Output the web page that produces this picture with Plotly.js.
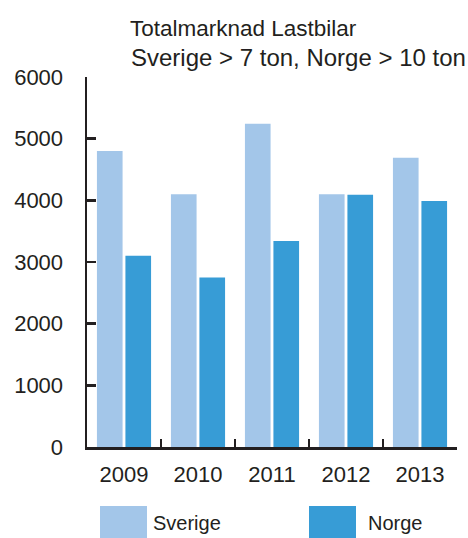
<!DOCTYPE html>
<html>
<head>
<meta charset="utf-8">
<script src="https://cdn.plot.ly/plotly-3.0.1.min.js"></script>
<style>html,body{margin:0;padding:0;background:#fff;}#chart{width:468px;height:538px;}</style>
</head>
<body>
<div id="chart"></div>
<script>
const years = ['2009', '2010', '2011', '2012', '2013'];
const sverige = [4800, 4100, 5240, 4100, 4690];
const norge = [3100, 2750, 3340, 4090, 3990];
const yTicks = [0, 1000, 2000, 3000, 4000, 5000, 6000];
const titleLine1 = 'Totalmarknad Lastbilar';
const titleLine2 = 'Sverige &gt; 7 ton, Norge &gt; 10 ton';
const seriesNames = ['Sverige', 'Norge'];

const colSv = '#a3c6e9';
const colNo = '#379cd6';
const ink = '#231f20';
const font = '"Liberation Sans", Arial, sans-serif';

const traces = [
  {type: 'bar', name: seriesNames[0], x: years, y: sverige, marker: {color: colSv}, showlegend: false, hoverinfo: 'x+y+name'},
  {type: 'bar', name: seriesNames[1], x: years, y: norge, marker: {color: colNo}, showlegend: false, hoverinfo: 'x+y+name'}
];

const layout = {
  width: 468, height: 538,
  margin: {l: 87, r: 11, t: 77, b: 91},
  paper_bgcolor: '#fff', plot_bgcolor: '#fff',
  font: {family: font, size: 22, color: ink},
  barmode: 'group', bargap: 0.23, bargroupgap: 0.1,
  title: {text: titleLine1, x: 130/468, xanchor: 'left', xref: 'container', y: 1 - 28/538, yanchor: 'middle', font: {family: font, size: 22.5, color: ink}},
  xaxis: {
    type: 'category', showline: true, linecolor: ink, linewidth: 2.5,
    ticks: 'inside', tickson: 'boundaries', ticklen: 8, tickwidth: 2.5, tickcolor: ink,
    showgrid: false, zeroline: false, fixedrange: true,
    ticklabelstandoff: 6,
    tickfont: {family: font, size: 22, color: ink}
  },
  yaxis: {
    range: [0, 6000], tickvals: yTicks, ticktext: yTicks.map(String),
    showline: true, linecolor: ink, linewidth: 2.5,
    ticks: 'inside', ticklen: 9, tickwidth: 2.5, tickcolor: ink,
    showgrid: false, zeroline: false, fixedrange: true,
    ticklabelstandoff: 17,
    tickfont: {family: font, size: 22, color: ink}
  },
  annotations: [
    {text: titleLine2, xref: 'paper', yref: 'paper', x: (129-87)/370, y: (447-57)/370, xanchor: 'left', yanchor: 'middle', showarrow: false, font: {family: font, size: 24, color: ink}},
    {text: seriesNames[0], xref: 'paper', yref: 'paper', x: (151-87)/370, y: (447-523)/370, xanchor: 'left', yanchor: 'middle', showarrow: false, font: {family: font, size: 20, color: ink}},
    {text: seriesNames[1], xref: 'paper', yref: 'paper', x: (366-87)/370, y: (447-523)/370, xanchor: 'left', yanchor: 'middle', showarrow: false, font: {family: font, size: 20, color: ink}}
  ],
  shapes: [
    {type: 'rect', xref: 'paper', yref: 'paper', x0: (100-87)/370, x1: (147-87)/370, y0: (447-506)/370, y1: (447-545)/370, fillcolor: colSv, line: {width: 0}},
    {type: 'rect', xref: 'paper', yref: 'paper', x0: (309-87)/370, x1: (356-87)/370, y0: (447-506)/370, y1: (447-545)/370, fillcolor: colNo, line: {width: 0}}
  ]
};

Plotly.newPlot('chart', traces, layout, {displayModeBar: false, staticPlot: true});
</script>
</body>
</html>
